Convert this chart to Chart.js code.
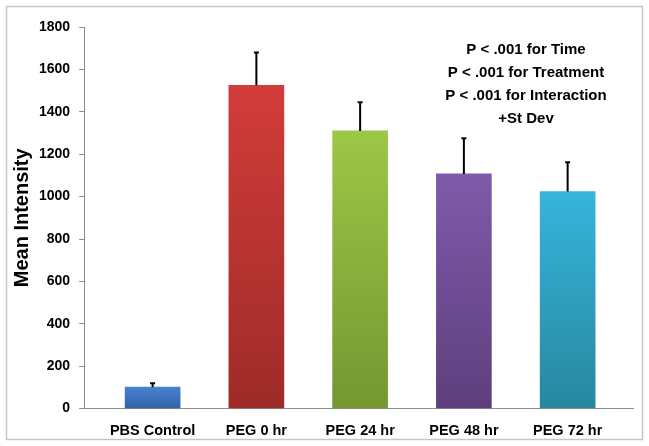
<!DOCTYPE html>
<html>
<head>
<meta charset="utf-8">
<script src="https://cdn.jsdelivr.net/npm/chart.js@4"></script>
<style>
  html, body { margin: 0; padding: 0; background: #fff; }
  #wrap { width: 649px; height: 446px; }
</style>
</head>
<body>
<div id="wrap"><canvas id="myChart" width="649" height="446"></canvas></div>
<script>
// data
const groups = ["PBS Control", "PEG 0 hr", "PEG 24 hr", "PEG 48 hr", "PEG 72 hr"];
const meanIntensity = [102, 1525, 1310, 1107, 1024];
const stDev = [18, 155, 135, 168, 138];
const yTicks = [0, 200, 400, 600, 800, 1000, 1200, 1400, 1600, 1800];
const notes = ["P < .001 for Time", "P < .001 for Treatment", "P < .001 for Interaction", "+St Dev"];

// top / bottom colours of each bar's gradient
const topColors = ["#4a82d0", "#d23c3a", "#9dc746", "#7f5aaa", "#36b5db"];
const bottomColors = ["#2f62a8", "#9e2b29", "#749732", "#5d3f7d", "#27879f"];

const ctx = document.getElementById("myChart").getContext("2d");

function barGradient(context) {
  const chart = context.chart;
  const area = chart.chartArea;
  if (!area) return topColors[context.dataIndex];
  const y = chart.scales.y;
  const top = y.getPixelForValue(meanIntensity[context.dataIndex]);
  const g = chart.ctx.createLinearGradient(0, top, 0, area.bottom);
  g.addColorStop(0, topColors[context.dataIndex]);
  g.addColorStop(1, bottomColors[context.dataIndex]);
  return g;
}

// outer frame + error bars + text notes
const extras = {
  id: "extras",
  beforeDraw(chart) {
    const c = chart.ctx;
    c.save();
    c.fillStyle = "#fff";
    c.fillRect(0, 0, chart.width, chart.height);
    c.strokeStyle = "#c6c6c6";
    c.lineWidth = 1.5;
    c.strokeRect(6.5, 6.5, 636, 433);
    c.restore();
  },
  afterDatasetsDraw(chart) {
    const c = chart.ctx;
    const meta = chart.getDatasetMeta(0);
    const y = chart.scales.y;
    c.save();
    c.strokeStyle = "#000";
    c.lineWidth = 2;
    meta.data.forEach((bar, i) => {
      const y0 = y.getPixelForValue(meanIntensity[i]);
      const y1 = y.getPixelForValue(meanIntensity[i] + stDev[i]);
      c.beginPath();
      c.moveTo(bar.x, y0);
      c.lineTo(bar.x, y1);
      c.moveTo(bar.x - 2.5, y1);
      c.lineTo(bar.x + 2.5, y1);
      c.stroke();
    });
    c.fillStyle = "#000";
    c.font = "bold 15px 'Liberation Sans', Arial, sans-serif";
    c.textAlign = "center";
    c.textBaseline = "middle";
    notes.forEach((t, i) => {
      c.fillText(t, 526, 50 + i * 23);
    });
    c.restore();
  }
};

const myChart = new Chart(ctx, {
  type: "bar",
  data: {
    datasets: [
      {
        label: "Mean Intensity",
        data: meanIntensity.map((v, i) => ({ x: i, y: v })),
        backgroundColor: barGradient,
        borderWidth: 0,
        barThickness: 55,
      },
    ],
  },
  options: {
    responsive: false,
    animation: false,
    layout: {
      padding: { left: 10, right: 16, top: 27, bottom: 0 },
    },
    scales: {
      x: {
        type: "linear",
        offset: false,
        min: -0.66,
        max: 4.63,
        afterBuildTicks(axis) {
          axis.ticks = groups.map((g, i) => ({ value: i }));
        },
        grid: { display: false },
        border: { color: "#8c8c8c", width: 1 },
        ticks: {
          color: "#000",
          padding: 6,
          autoSkip: false,
          maxRotation: 0,
          callback: (v) => groups[v],
          font: { family: "'Liberation Sans', Arial, sans-serif", size: 14.5, weight: "bold" },
        },
      },
      y: {
        min: 0,
        max: 1800,
        afterBuildTicks(axis) {
          axis.ticks = yTicks.map((v) => ({ value: v }));
        },
        grid: {
          drawOnChartArea: false,
          drawTicks: true,
          tickLength: 5,
          color: "#8c8c8c",
        },
        border: { color: "#8c8c8c", width: 1 },
        ticks: {
          color: "#000",
          padding: 9,
          callback: (v) => String(v),
          font: { family: "'Liberation Sans', Arial, sans-serif", size: 14, weight: "bold" },
        },
        title: {
          display: true,
          text: "Mean Intensity",
          color: "#000",
          padding: { top: 2, bottom: -2 },
          font: { family: "'Liberation Sans', Arial, sans-serif", size: 20, weight: "bold", lineHeight: 1 },
        },
      },
    },
    plugins: {
      legend: { display: false },
      tooltip: { enabled: false },
    },
  },
  plugins: [extras],
});
</script>
</body>
</html>
